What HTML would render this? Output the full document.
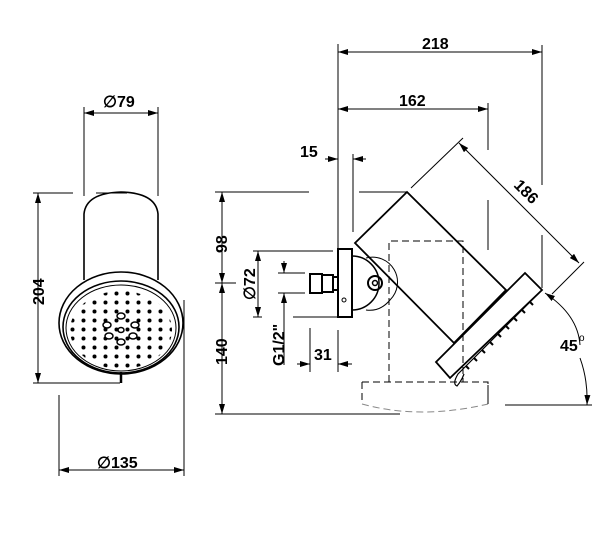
<!DOCTYPE html>
<html><head><meta charset="utf-8"><style>
html,body{margin:0;padding:0;background:#fff;}
svg{display:block;font-family:"Liberation Sans",Arial,sans-serif;font-weight:bold;}
</style></head><body>
<svg width="609" height="542" viewBox="0 0 609 542" xmlns="http://www.w3.org/2000/svg">
<defs>
<marker id="a" viewBox="0 0 10 6" refX="10" refY="3" markerWidth="10" markerHeight="6" orient="auto-start-reverse" markerUnits="userSpaceOnUse"><path d="M0,0 L10,3 L0,6 z" fill="#000"/></marker>
<pattern id="dots" x="1" y="1" width="11" height="9" patternUnits="userSpaceOnUse"><circle cx="5.5" cy="4.5" r="2" fill="#000"/></pattern>
<clipPath id="face"><ellipse cx="121" cy="330" rx="51" ry="39"/></clipPath>
</defs>
<g stroke="#000" fill="none" stroke-width="1">
<line x1="84" y1="107" x2="84" y2="196"/>
<line x1="158" y1="107" x2="158" y2="196"/>
<line x1="84" y1="113" x2="158" y2="113" marker-start="url(#a)" marker-end="url(#a)"/>
<path d="M84,280 L84,214 Q86,193 121,192 Q156,193 158,214 L158,280" stroke-width="1.6"/>
<ellipse cx="121" cy="323" rx="62" ry="51" stroke-width="1.6"/>
<ellipse cx="121" cy="327" rx="58" ry="46" stroke-width="1.6"/>
<ellipse cx="121" cy="328" rx="55" ry="43"/>
<rect x="60" y="280" width="122" height="100" fill="url(#dots)" stroke="none" clip-path="url(#face)"/>
<g fill="#fff" stroke-width="1.5">
<ellipse cx="107" cy="325" rx="4" ry="3"/><ellipse cx="135" cy="325" rx="4" ry="3"/>
<ellipse cx="121" cy="316" rx="4" ry="3"/><ellipse cx="121" cy="342" rx="4" ry="3"/>
<ellipse cx="109" cy="336" rx="4" ry="3"/><ellipse cx="133" cy="336" rx="4" ry="3"/>
<ellipse cx="121" cy="330" rx="3" ry="2.5"/>
</g>
<line x1="121" y1="372" x2="121" y2="383" stroke-width="2.5"/>
<line x1="33" y1="193" x2="73" y2="193"/>
<line x1="96" y1="193" x2="127" y2="193"/>
<line x1="33" y1="383" x2="120" y2="383"/>
<line x1="38" y1="193" x2="38" y2="383" marker-start="url(#a)" marker-end="url(#a)"/>
<line x1="59" y1="395" x2="59" y2="476"/>
<line x1="184" y1="300" x2="184" y2="476"/>
<line x1="59" y1="470" x2="184" y2="470" marker-start="url(#a)" marker-end="url(#a)"/>

<line x1="338" y1="44" x2="338" y2="250"/>
<line x1="353" y1="154" x2="353" y2="232"/>
<line x1="325" y1="159" x2="338" y2="159" marker-end="url(#a)"/>
<line x1="366" y1="159" x2="353" y2="159" marker-end="url(#a)"/>
<line x1="215" y1="192" x2="309" y2="192"/>
<line x1="359" y1="192" x2="407" y2="192"/>
<line x1="222" y1="192" x2="222" y2="283" marker-start="url(#a)" marker-end="url(#a)"/>
<line x1="222" y1="283" x2="222" y2="414" marker-start="url(#a)" marker-end="url(#a)"/>
<line x1="215" y1="283" x2="236" y2="283"/>
<line x1="215" y1="414" x2="400" y2="414"/>
<line x1="253" y1="251" x2="333" y2="251"/>
<line x1="253" y1="317" x2="262" y2="317"/>
<line x1="293" y1="317" x2="337" y2="317"/>
<line x1="258" y1="251" x2="258" y2="317" marker-start="url(#a)" marker-end="url(#a)"/>
<line x1="278" y1="273" x2="305" y2="273"/>
<line x1="278" y1="293" x2="305" y2="293"/>
<line x1="284" y1="261" x2="284" y2="273" marker-end="url(#a)"/>
<line x1="284" y1="365" x2="284" y2="293" marker-end="url(#a)"/>
<rect x="310" y="274" width="12" height="19" stroke-width="2"/>
<rect x="322" y="275" width="11" height="17" stroke-width="2"/>
<rect x="333" y="277" width="5" height="13" stroke-width="2"/>
<rect x="338" y="249" width="14" height="68" stroke-width="2"/>
<circle cx="344" cy="300" r="2"/>
<path d="M352,256 A27,27 0 0 1 352,310" stroke-width="1.5"/>
<path d="M366,258 A25,25 0 0 1 390,300 Q380,312 366,310"/>
<circle cx="375" cy="283" r="7" stroke-width="2"/>
<circle cx="375" cy="283" r="2.5" stroke-width="1.5"/>
<line x1="310" y1="328" x2="310" y2="372"/>
<line x1="297" y1="364" x2="310" y2="364" marker-end="url(#a)"/>
<line x1="352" y1="364" x2="338" y2="364" marker-end="url(#a)"/>
<line x1="338" y1="330" x2="338" y2="372"/>

<g stroke-dasharray="7,4">
<path d="M389,382 L389,241 L463,241 L463,382"/>
<path d="M362,382 L488,382 L488,404"/>
<path d="M362,382 L362,404"/>
<path d="M362,404 Q420,420 488,404" stroke="#888"/>
</g>

<polygon points="355,243 407,192 506,290 454,343" stroke-width="1.8"/>
<polygon points="436,362 525,273 542,290 450,378" stroke-width="1.8"/>
<path d="M539,293 L458,374 Q452,384 457,386 Q462,380 464,374" stroke-width="1.2"/>
<g stroke-width="2">
<line x1="530" y1="302" x2="533" y2="305"/><line x1="522" y1="310" x2="525" y2="313"/>
<line x1="514" y1="318" x2="517" y2="321"/><line x1="506" y1="326" x2="509" y2="329"/>
<line x1="498" y1="334" x2="501" y2="337"/><line x1="490" y1="342" x2="493" y2="345"/>
<line x1="482" y1="350" x2="485" y2="353"/><line x1="474" y1="358" x2="477" y2="361"/>
<line x1="466" y1="366" x2="469" y2="369"/>
</g>

<line x1="338" y1="52" x2="542" y2="52" marker-start="url(#a)" marker-end="url(#a)"/>
<line x1="542" y1="45" x2="542" y2="185"/>
<line x1="542" y1="235" x2="542" y2="288"/>
<line x1="338" y1="109" x2="488" y2="109" marker-start="url(#a)" marker-end="url(#a)"/>
<line x1="488" y1="103" x2="488" y2="150"/>
<line x1="488" y1="200" x2="488" y2="250"/>
<line x1="488" y1="385" x2="488" y2="404"/>
<line x1="411" y1="188" x2="463" y2="138"/>
<line x1="552" y1="294" x2="584" y2="262"/>
<line x1="459" y1="143" x2="579" y2="263" marker-start="url(#a)" marker-end="url(#a)"/>
<line x1="505" y1="405" x2="592" y2="405"/>
<path d="M545,293 Q578,315 580,345" marker-start="url(#a)"/>
<path d="M580,358 Q588,380 587,405" marker-end="url(#a)"/>
</g>

<g font-size="16" fill="#000">
<text x="103" y="107">∅79</text>
<text x="97" y="468">∅135</text>
<text x="0" y="0" transform="translate(44,305) rotate(-90)">204</text>
<text x="422" y="49">218</text>
<text x="399" y="106">162</text>
<text x="300" y="157">15</text>
<text x="0" y="0" transform="translate(227,253) rotate(-90)">98</text>
<text x="0" y="0" transform="translate(227,365) rotate(-90)">140</text>
<text x="0" y="0" transform="translate(255,300) rotate(-90)">∅72</text>
<text x="0" y="0" transform="translate(284,366) rotate(-90)">G1/2"</text>
<text x="314" y="360">31</text>
<text x="0" y="0" transform="translate(513,186) rotate(45)">186</text>
<text x="560" y="351">45</text>
<text x="579" y="341" font-size="10" font-weight="normal">o</text>
</g>
</svg>
</body></html>
